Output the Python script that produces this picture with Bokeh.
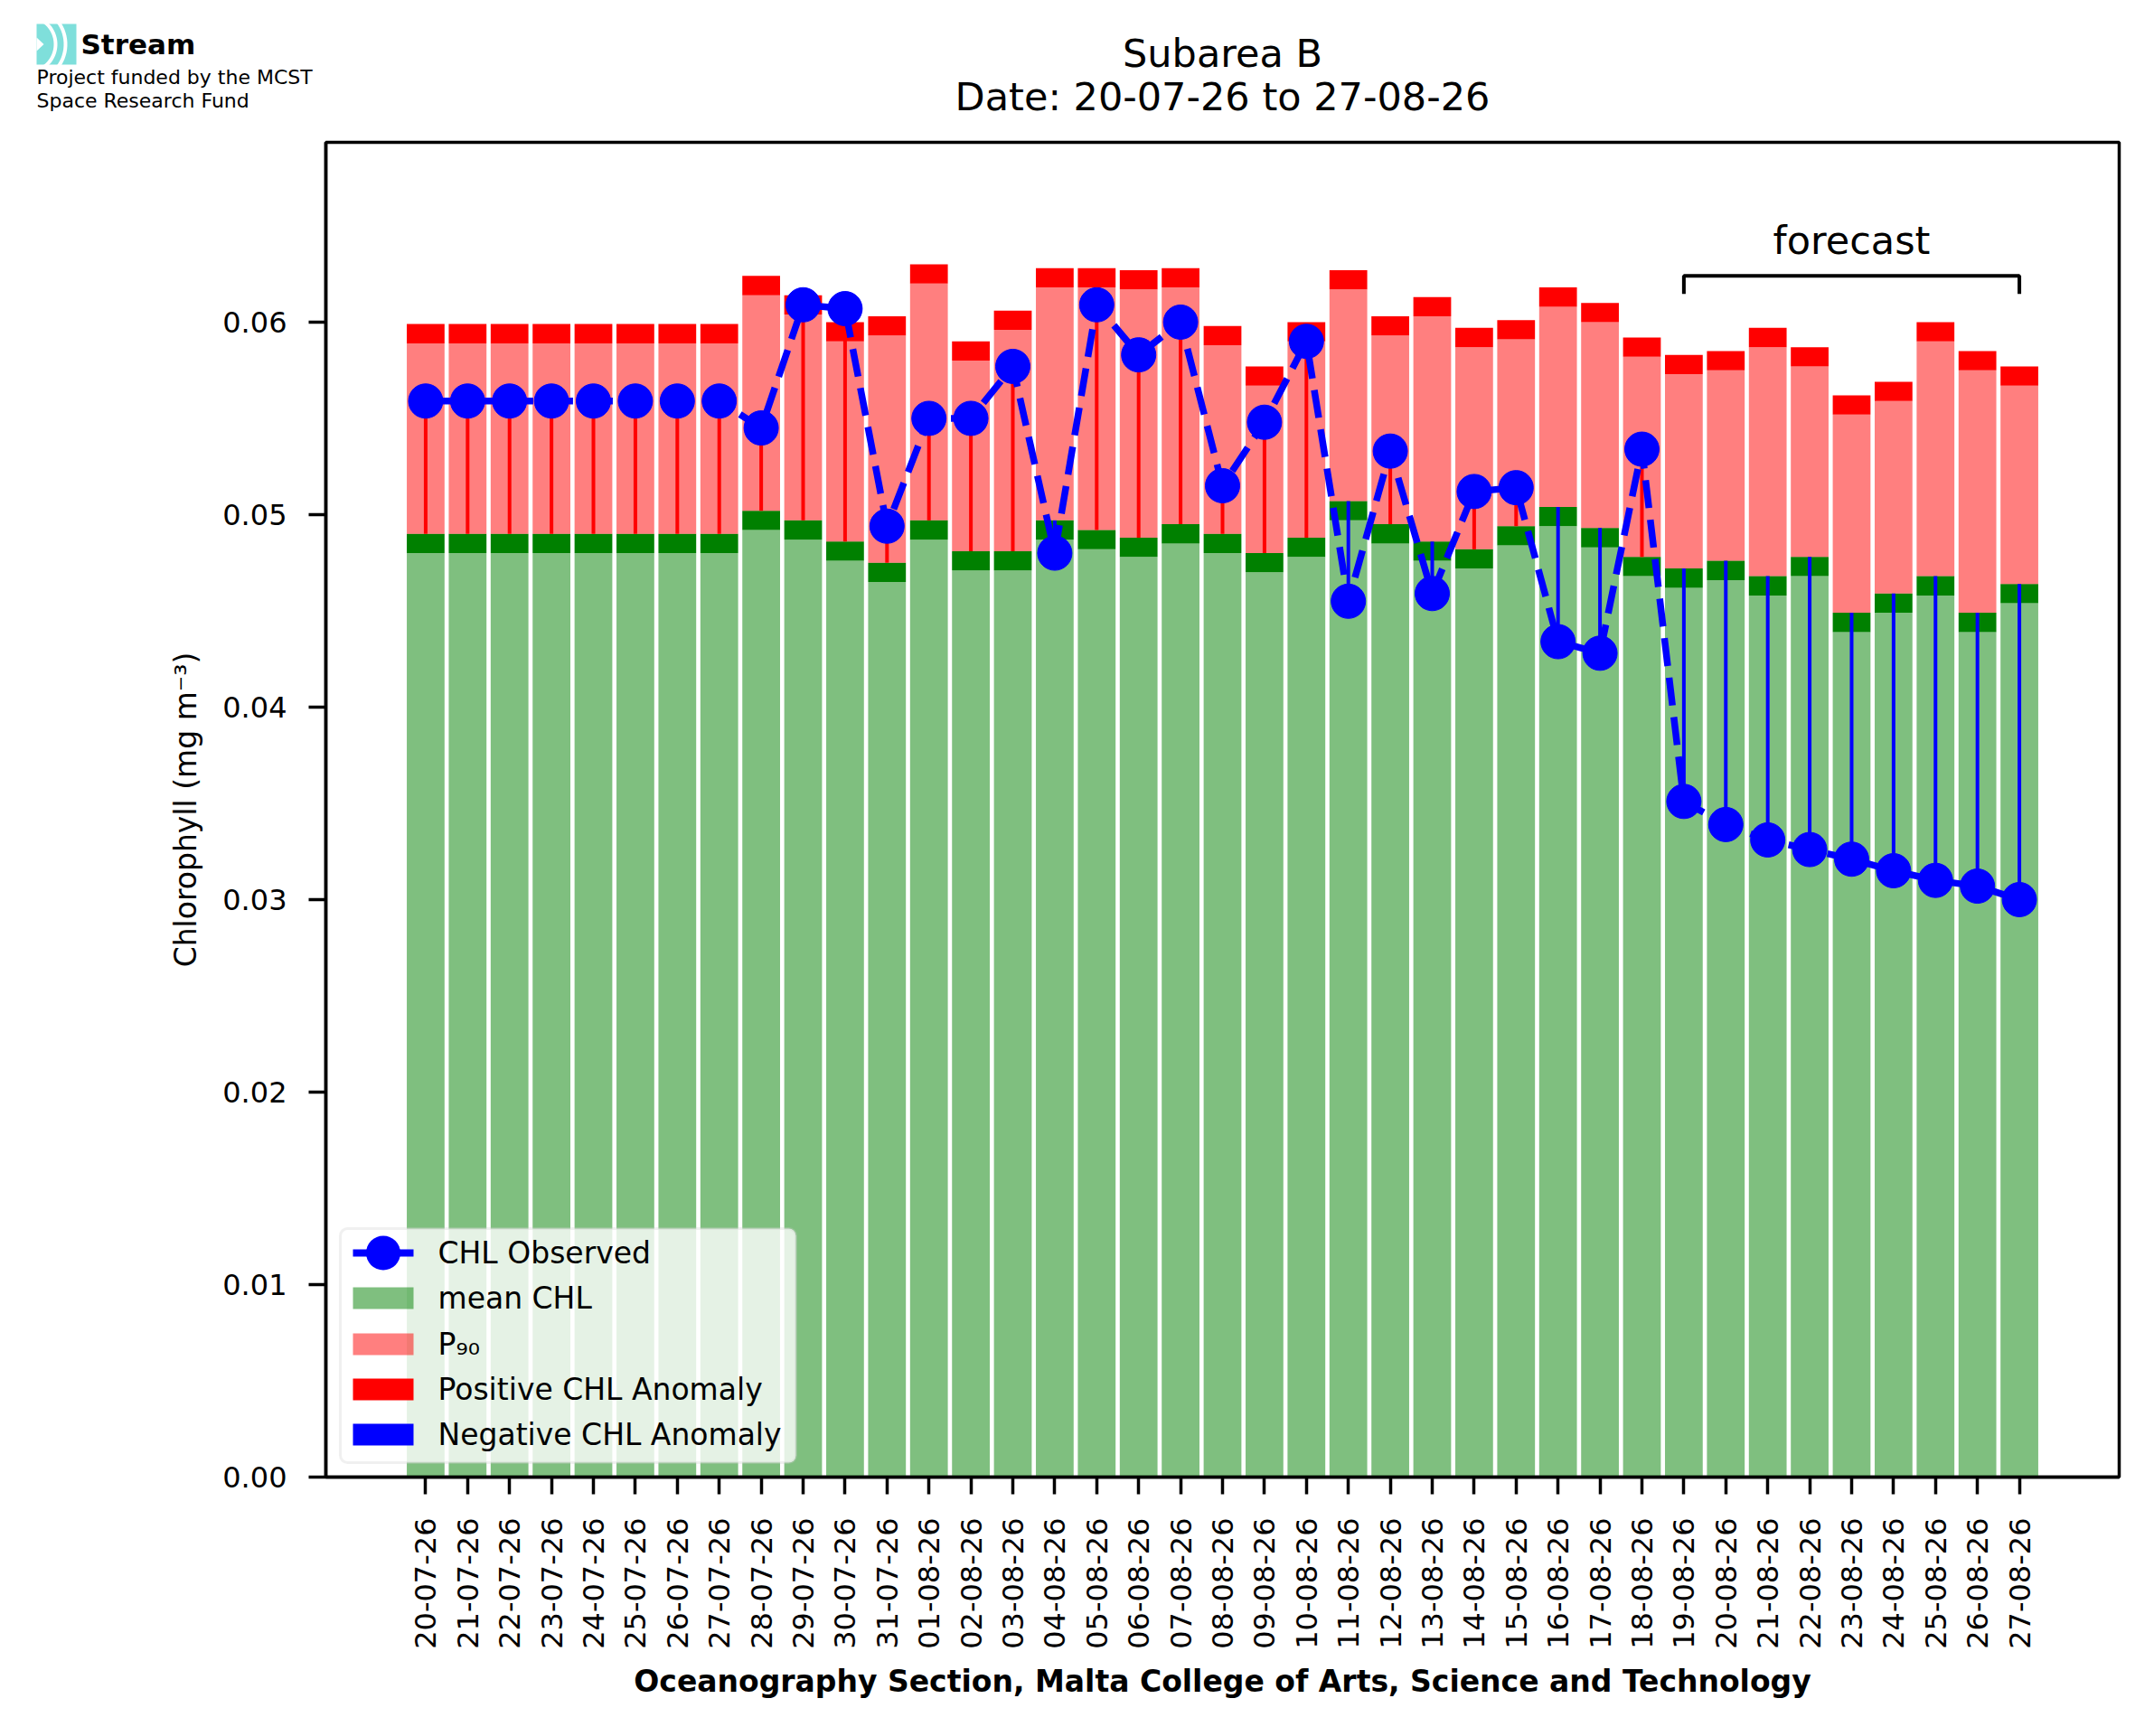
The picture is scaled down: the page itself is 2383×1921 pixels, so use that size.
import math

import numpy as np
from bokeh.core.properties import value
from bokeh.embed import file_html
from bokeh.models import (BoxAnnotation, ColumnDataSource, FixedTicker, Label,
                          PrintfTickFormatter, Range1d)
from bokeh.plotting import figure
from bokeh.resources import INLINE

# Daily values (mg m-3)
dates = [
    "20-07-26", "21-07-26", "22-07-26", "23-07-26", "24-07-26", "25-07-26",
    "26-07-26", "27-07-26", "28-07-26", "29-07-26", "30-07-26", "31-07-26",
    "01-08-26", "02-08-26", "03-08-26", "04-08-26", "05-08-26", "06-08-26",
    "07-08-26", "08-08-26", "09-08-26", "10-08-26", "11-08-26", "12-08-26",
    "13-08-26", "14-08-26", "15-08-26", "16-08-26", "17-08-26", "18-08-26",
    "19-08-26", "20-08-26", "21-08-26", "22-08-26", "23-08-26", "24-08-26",
    "25-08-26", "26-08-26", "27-08-26",
]
mean_chl = [
    0.0480, 0.0480, 0.0480, 0.0480, 0.0480, 0.0480, 0.0480, 0.0480, 0.0492,
    0.0487, 0.0476, 0.0465, 0.0487, 0.0471, 0.0471, 0.0487, 0.0482, 0.0478,
    0.0485, 0.0480, 0.0470, 0.0478, 0.0497, 0.0485, 0.0476, 0.0472, 0.0484,
    0.0494, 0.0483, 0.0468, 0.0462, 0.0466, 0.0458, 0.0468, 0.0439, 0.0449,
    0.0458, 0.0439, 0.0454,
]
p90_chl = [
    0.0589, 0.0589, 0.0589, 0.0589, 0.0589, 0.0589, 0.0589, 0.0589, 0.0614,
    0.0604, 0.0590, 0.0593, 0.0620, 0.0580, 0.0596, 0.0618, 0.0618, 0.0617,
    0.0618, 0.0588, 0.0567, 0.0590, 0.0617, 0.0593, 0.0603, 0.0587, 0.0591,
    0.0608, 0.0600, 0.0582, 0.0573, 0.0575, 0.0587, 0.0577, 0.0552, 0.0559,
    0.0590, 0.0575, 0.0567,
]
obs_chl = [
    0.0559, 0.0559, 0.0559, 0.0559, 0.0559, 0.0559, 0.0559, 0.0559, 0.0545,
    0.0609, 0.0607, 0.0494, 0.0550, 0.0550, 0.0577, 0.0480, 0.0609, 0.0583,
    0.0600, 0.0515, 0.0548, 0.0590, 0.0455, 0.0533, 0.0459, 0.0512, 0.0514,
    0.0434, 0.0428, 0.0534, 0.0351, 0.0339, 0.0331, 0.0326, 0.0321, 0.0315,
    0.0310, 0.0307, 0.0300,
]
forecast_from = "19-08-26"
forecast_level = 0.0624
y_ticks = [0.0, 0.01, 0.02, 0.03, 0.04, 0.05, 0.06]

BAND = 0.001          # thickness of the dark green / red caps
FONT = "DejaVu Sans"

n = len(dates)
xs = list(range(n))
source = ColumnDataSource(data=dict(
    x=xs,
    mean=mean_chl,
    mean_top=[m + BAND for m in mean_chl],
    p90=p90_chl,
    p90_top=[q + BAND for q in p90_chl],
    obs=obs_chl,
    stem_color=["red" if o > m + BAND else "blue" for o, m in zip(obs_chl, mean_chl)],
))

W = 2366
HEAD_H = 148

# ---- header strip: logo and title, drawn in pixel coordinates ----
head = figure(width=W, height=HEAD_H, output_backend="svg", toolbar_location=None,
              x_range=Range1d(0, W), y_range=Range1d(HEAD_H, 0),
              x_axis_type=None, y_axis_type=None, min_border=0,
              outline_line_color=None, background_fill_color="white",
              border_fill_color="white")
head.grid.visible = False

icon = "#7fdfdb"
head.patch([40, 84, 84, 40], [26, 26, 71, 71], fill_color=icon, line_color=None)
ang = np.linspace(-1.25, 1.25, 30)
for r_in, r_out in ((29, 33), (40, 44)):
    ox = list(30 + r_out * np.cos(ang)) + list(30 + r_in * np.cos(ang[::-1]))
    oy = list(48.5 + r_out * np.sin(ang)) + list(48.5 + r_in * np.sin(ang[::-1]))
    head.patch(ox, oy, fill_color="white", line_color=None)
head.patch([40, 48, 40], [41, 48.5, 56], fill_color="white", line_color=None)

head.add_layout(Label(x=89, y=48.5, text="Stream", text_font=FONT, text_font_style="bold",
                      text_font_size="31px", text_baseline="middle",
                      text_color="black"))
for txt, mid in (("Project funded by the MCST", 85), ("Space Research Fund", 110.5)):
    head.add_layout(Label(x=40, y=mid, text=txt, text_font=FONT, text_font_size="22px",
                          text_baseline="middle", text_color="black"))
for txt, mid in (("Subarea B", 58.5), ("Date: 20-07-26 to 27-08-26", 106)):
    head.add_layout(Label(x=1352, y=mid, text=txt, text_align="center",
                          text_baseline="middle", text_font=FONT,
                          text_font_size="43px", text_color="black"))

# ---- main chart ----
H = 1760
FL, FR, FT, FB = 360, 2344, 9, 1486

p = figure(width=W, height=H, output_backend="svg", toolbar_location=None,
           x_range=Range1d(-2.38, n - 1 + 2.38), y_range=Range1d(0, 0.06934),
           min_border_left=FL, min_border_right=W - FR,
           min_border_top=FT, min_border_bottom=H - FB,
           background_fill_color="white", border_fill_color="white")
p.grid.visible = False
p.outline_line_color = "black"
p.outline_line_width = 3.5

# stacked bars
p.vbar(x="x", width=0.9, bottom=0, top="mean", source=source,
       fill_color="green", fill_alpha=0.5, line_color=None)
p.vbar(x="x", width=0.9, bottom="mean", top="mean_top", source=source,
       fill_color="green", line_color=None)
p.vbar(x="x", width=0.9, bottom="mean_top", top="p90", source=source,
       fill_color="red", fill_alpha=0.5, line_color=None)
p.vbar(x="x", width=0.9, bottom="p90", top="p90_top", source=source,
       fill_color="red", line_color=None)

# anomaly stems and observations
p.segment(x0="x", y0="mean_top", x1="x", y1="obs", source=source,
          line_color="stem_color", line_width=4)
p.line("x", "obs", source=source, line_color="blue", line_width=7.5,
       line_dash="31 13")
p.scatter("x", "obs", source=source, size=38, fill_color="blue",
          line_color="blue")

# forecast bracket
f0 = dates.index(forecast_from)
f1 = n - 1
drop = 0.00093
p.line([f0, f0, f1, f1], [forecast_level - drop, forecast_level, forecast_level,
                          forecast_level - drop],
       line_color="black", line_width=4)
p.text(x=[(f0 + f1) / 2], y=[0.06425], text=["forecast"], text_align="center",
       text_baseline="middle", text_font=value(FONT), text_font_size="43px",
       text_color="black")

# axes
for ax in (p.xaxis[0], p.yaxis[0]):
    ax.axis_line_width = 3.5
    ax.major_tick_line_width = 3.5
    ax.major_tick_out = 19
    ax.major_tick_in = 0
    ax.minor_tick_line_color = None
    ax.major_label_text_font = FONT
    ax.major_label_text_font_size = "32px"
    ax.major_label_text_color = "black"
    ax.axis_label_text_font = FONT
    ax.axis_label_text_font_size = "33px"
    ax.axis_label_text_color = "black"

p.xaxis.ticker = FixedTicker(ticks=xs)
p.xaxis.major_label_overrides = {i: d for i, d in enumerate(dates)}
p.xaxis.major_label_orientation = math.pi / 2
p.xaxis.major_label_standoff = 26
p.xaxis.axis_label = "Oceanography Section, Malta College of Arts, Science and Technology"
p.xaxis.axis_label_text_font_style = "bold"
p.xaxis.axis_label_standoff = 13

p.yaxis.ticker = FixedTicker(ticks=y_ticks)
p.yaxis.formatter = PrintfTickFormatter(format="%.2f")
p.yaxis.major_label_standoff = 24
p.yaxis.axis_label = "Chlorophyll (mg m⁻³)"
p.yaxis.axis_label_text_font_style = "normal"
p.yaxis.axis_label_standoff = 18


# legend drawn by hand so the marker keeps its plotted size
def sbox(left, right, bottom, top, **kw):
    return BoxAnnotation(left=left, right=right, bottom=bottom, top=top,
                         left_units="screen", right_units="screen",
                         bottom_units="screen", top_units="screen", **kw)


p.add_layout(sbox(16, 520, 16, 275, fill_color="white", fill_alpha=0.8,
                  line_color="#cccccc", line_width=3, border_radius=8))
rows = [248, 198, 147, 97, 47]
labels = ["CHL Observed", "mean CHL", "P₉₀", "Positive CHL Anomaly", "Negative CHL Anomaly"]
p.add_layout(sbox(30, 97, rows[0] - 4, rows[0] + 4, fill_color="blue", fill_alpha=1,
                  line_color=None))
p.add_layout(sbox(44.5, 82.5, rows[0] - 19, rows[0] + 19, fill_color="blue", fill_alpha=1,
                  line_color=None, border_radius=19))
for yc, col, alpha in ((rows[1], "green", 0.5), (rows[2], "red", 0.5),
                       (rows[3], "red", 1.0), (rows[4], "blue", 1.0)):
    p.add_layout(sbox(30, 97, yc - 12, yc + 12, fill_color=col, fill_alpha=alpha,
                      line_color=None))
for yc, txt in zip(rows, labels):
    p.add_layout(Label(x=124, y=yc, x_units="screen", y_units="screen", text=txt,
                       text_font=FONT, text_font_size="33px", text_baseline="middle",
                       text_color="black"))

# header and chart as two stacked roots so their frames are not aligned
open("out.html", "w").write(file_html([head, p], INLINE))
